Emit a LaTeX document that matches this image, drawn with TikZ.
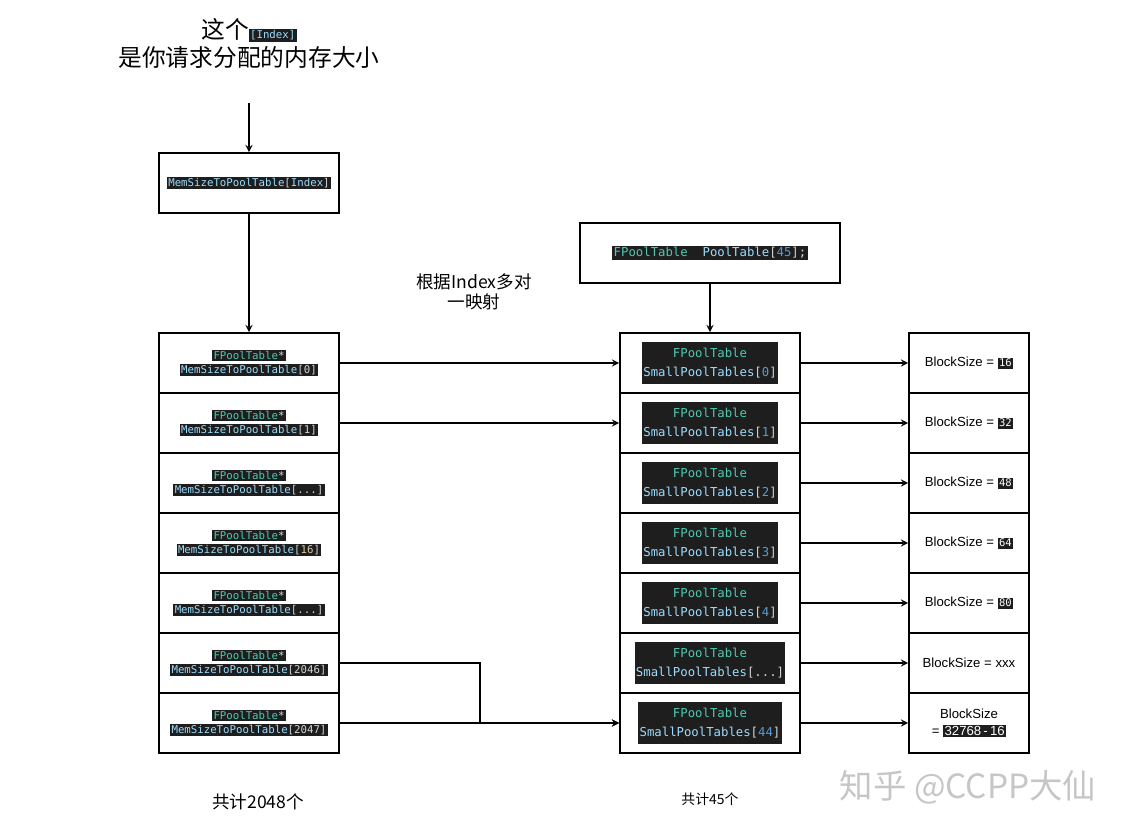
\documentclass[tikz,border=0pt]{standalone}
\usepackage{fontspec}
\setmainfont{Liberation Sans}
\newfontfamily\cjk{Noto Sans CJK SC}
\newfontfamily\codefont{DejaVu Sans Mono}
\usepackage{tikz}
\usetikzlibrary{arrows, positioning}
\definecolor{codebg}{HTML}{1E1E1E}
\definecolor{codetype}{HTML}{4EC9B0}
\definecolor{codevar}{HTML}{9CDCFE}
\definecolor{codetxt}{HTML}{D4D4D4}
\definecolor{codenum}{HTML}{D7C9A0}
\definecolor{codeblue}{HTML}{569CD6}
\setlength{\fboxsep}{0.8pt}
\newcommand{\idxcode}{{\codefont\fontsize{6.1}{7}\selectfont\colorbox{codebg}{\textcolor{codevar}{[Index]}}}}
\newcommand{\ptr}[1]{\colorbox{codebg}{\textcolor{codetype}{FPoolTable}\textcolor{codetxt}{*}}\\\colorbox{codebg}{\textcolor{codevar}{MemSizeToPoolTable}\textcolor{codetxt}{[#1]}}}
\newcommand{\spt}[1]{\colorbox{codebg}{\begin{tabular}{@{}c@{}}\textcolor{codetype}{FPoolTable}\\\textcolor{codevar}{SmallPoolTables}\textcolor{codetxt}{[}#1\textcolor{codetxt}{]}\end{tabular}}}
\newcommand{\num}[1]{\colorbox{codebg}{\codefont\fontsize{6}{7}\selectfont\textcolor{white}{#1}}}
\tikzstyle{cell} = [rectangle, minimum width=3.6cm, minimum height=1.2cm, align=center, draw=black, line width=1.1pt, inner sep=0pt, font=\codefont\fontsize{6.1}{8}\selectfont]
\tikzstyle{slot} = [cell, font=\codefont\fontsize{7}{11}\selectfont]
\tikzstyle{block} = [cell, minimum width=2.4cm, font=\fontsize{7.5}{10}\selectfont]
\tikzstyle{arrow} = [line width=0.8pt,->,>=stealth]

\begin{document}
\begin{tikzpicture}[node distance=1.2cm]
    \useasboundingbox (0,0) rectangle (22.48,-16.66);
    \node (title) at (4.98,-0.87) [align=center, font=\cjk\fontsize{13.5}{15.5}\selectfont] {这个\idxcode\\是你请求分配的内存大小};
    \coordinate (start) at (4.98,-2.06);
    \node (idx) [cell] at (4.98,-3.66) {\colorbox{codebg}{\textcolor{codevar}{MemSizeToPoolTable}\textcolor{codetxt}{[}\textcolor{codevar}{Index}\textcolor{codetxt}{]}}};
    \node (pool) [slot, minimum width=5.2cm] at (14.2,-5.06) {\colorbox{codebg}{\textcolor{codetype}{FPoolTable}\ \ \textcolor{codevar}{PoolTable}\textcolor{codetxt}{[}\textcolor{codeblue}{45}\textcolor{codetxt}{];}}};
    \node (note) at (9.48,-5.84) [align=center, font=\cjk\fontsize{10}{11.5}\selectfont] {根据Index多对\\一映射};

    % MemSizeToPoolTable column
    \node (m0) [cell] at (4.98,-7.26) {\ptr{0}};
    \node (m1) [cell, below of=m0] {\ptr{1}};
    \node (m2) [cell, below of=m1] {\ptr{...}};
    \node (m3) [cell, below of=m2] {\ptr{\textcolor{codenum}{16}}};
    \node (m4) [cell, below of=m3] {\ptr{...}};
    \node (m5) [cell, below of=m4] {\ptr{2046}};
    \node (m6) [cell, below of=m5] {\ptr{2047}};

    % SmallPoolTables column
    \node (s0) [slot] at (14.2,-7.26) {\spt{\textcolor{codeblue}{0}}};
    \node (s1) [slot, below of=s0] {\spt{\textcolor{codeblue}{1}}};
    \node (s2) [slot, below of=s1] {\spt{\textcolor{codeblue}{2}}};
    \node (s3) [slot, below of=s2] {\spt{\textcolor{codeblue}{3}}};
    \node (s4) [slot, below of=s3] {\spt{\textcolor{codeblue}{4}}};
    \node (s5) [slot, below of=s4] {\spt{\textcolor{codetxt}{...}}};
    \node (s6) [slot, below of=s5] {\spt{\textcolor{codeblue}{44}}};

    % BlockSize column
    \node (b0) [block] at (19.38,-7.26) {BlockSize = \num{16}};
    \node (b1) [block, below of=b0] {BlockSize = \num{32}};
    \node (b2) [block, below of=b1] {BlockSize = \num{48}};
    \node (b3) [block, below of=b2] {BlockSize = \num{64}};
    \node (b4) [block, below of=b3] {BlockSize = \num{80}};
    \node (b5) [block, below of=b4] {BlockSize = xxx};
    \node (b6) [block, below of=b5] {BlockSize\\= \colorbox{codebg}{\textcolor{white}{32768\,-\,16}}};

    \node (total1) at (5.16,-16.04) [font=\cjk\fontsize{10}{12}\selectfont] {共计2048个};
    \node (total2) at (14.2,-15.98) [font=\cjk\fontsize{7.9}{9}\selectfont] {共计45个};
    \node (mark) at (19.36,-15.74) [text=gray!45, font=\cjk\fontsize{19}{22}\selectfont] {知乎 @CCPP大仙};

    \draw [arrow] (start) -- (idx);
    \draw [arrow] (idx) -- (m0);
    \draw [arrow] (pool) -- (s0);
    \draw [arrow] (m0) -- (s0);
    \draw [arrow] (m1) -- (s1);
    \draw [arrow] (m5.east) -- ++(2.8,0) |- (s6.west);
    \draw [arrow] (m6) -- (s6);
    \draw [arrow] (s0) -- (b0);
    \draw [arrow] (s1) -- (b1);
    \draw [arrow] (s2) -- (b2);
    \draw [arrow] (s3) -- (b3);
    \draw [arrow] (s4) -- (b4);
    \draw [arrow] (s5) -- (b5);
    \draw [arrow] (s6) -- (b6);
\end{tikzpicture}
\end{document}
